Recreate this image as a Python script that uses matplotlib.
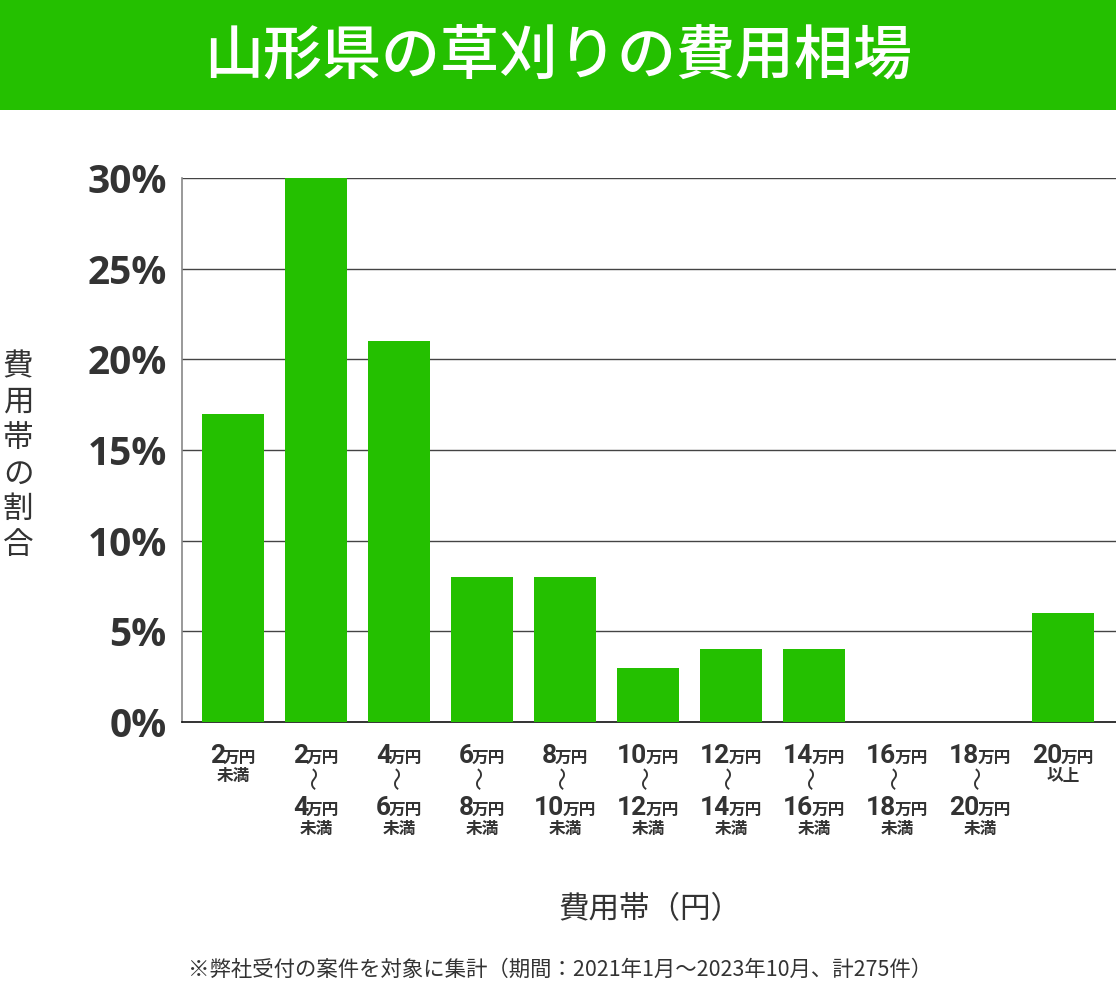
import matplotlib
matplotlib.use('Agg')
import matplotlib.pyplot as plt
import matplotlib.transforms as mtransforms
from matplotlib.patches import Rectangle

# ---- data ----
range_start = ['2', '2', '4', '6', '8', '10', '12', '14', '16', '18', '20']
range_end = ['', '4', '6', '8', '10', '12', '14', '16', '18', '20', '']
range_note = ['未満', '未満', '未満', '未満', '未満', '未満', '未満', '未満', '未満', '未満', '以上']
shares = [17, 30, 21, 8, 8, 3, 4, 4, 0, 0, 6]
y_ticks = [0, 5, 10, 15, 20, 25, 30]
y_tick_labels = ['0%', '5%', '10%', '15%', '20%', '25%', '30%']

title = '山形県の草刈りの費用相場'
y_label = '費用帯の割合'
x_label = '費用帯（円）'
footnote = '※弊社受付の案件を対象に集計（期間：2021年1月～2023年10月、計275件）'

GREEN = '#24c000'
DARK = '#333333'
CJK = ['Noto Sans CJK JP', 'DejaVu Sans']

W, H = 1116, 990
fig = plt.figure(figsize=(W / 100, H / 100), dpi=100)

# title banner
fig.patches.append(Rectangle((0, 1 - 110 / H), 1, 110 / H, transform=fig.transFigure,
                             facecolor=GREEN, edgecolor='none', zorder=0))
fig.text(558 / W, 1 - 57 / H, title, ha='center', va='center', color='white',
         fontsize=42.5, family=CJK, fontweight='medium')

ax = fig.add_axes([182 / W, 1 - 722 / H, 1 - 182 / W, (722 - 178) / H])
x = list(range(len(shares)))
ax.bar(x, shares, width=0.75, color=GREEN, zorder=3)
ax.set_xlim(-0.615, len(shares) - 1 + 0.64)
ax.set_ylim(0, 30)
ax.set_yticks(y_ticks)
ax.set_yticklabels(y_tick_labels, fontsize=28, fontweight='bold', color=DARK,
                   family=['Open Sans', 'DejaVu Sans'])
ax.tick_params(axis='y', length=0, pad=11)
ax.set_xticks([])
for yt in y_ticks[1:]:
    ax.axhline(yt, color='#444444', lw=1.0, zorder=1)
for s in ['top', 'right']:
    ax.spines[s].set_visible(False)
ax.spines['left'].set_color('#888888')
ax.spines['left'].set_linewidth(1.2)
ax.spines['bottom'].set_color('#111111')
ax.spines['bottom'].set_linewidth(1.2)

# y label stacked vertically
fig.text(18 / W, 1 - 456 / H, '\n'.join(y_label), ha='center', va='center',
         fontsize=22, color=DARK, family=CJK, linespacing=1.2)

fig.text(650 / W, 1 - 910 / H, x_label, ha='center', va='center', fontsize=22,
         color=DARK, family=CJK)
fig.text(560 / W, 1 - 970 / H, footnote, ha='center', va='center', fontsize=15.4,
         color=DARK, family=CJK)

# x tick labels (mixed sizes)
fig.canvas.draw()
renderer = fig.canvas.get_renderer()
trans = mtransforms.blended_transform_factory(ax.transData, fig.transFigure)
NUM_FS, UNIT_FS, NOTE_FS = 19, 12, 12
num_font = dict(family=['Roboto', 'DejaVu Sans'], fontweight='bold', color=DARK)
cjk_font = dict(family=CJK, fontweight='bold', color=DARK)


def amount(xc, ypix, num):
    t1 = ax.text(xc, 1 - ypix / H, num, transform=trans, ha='left', va='baseline',
                 fontsize=NUM_FS, **num_font)
    t2 = ax.text(xc, 1 - ypix / H, '万円', transform=trans, ha='left', va='baseline',
                 fontsize=UNIT_FS, **cjk_font)
    w1 = t1.get_window_extent(renderer).width - 2
    w2 = t2.get_window_extent(renderer).width
    total = w1 + w2
    t1.set_transform(mtransforms.offset_copy(trans, fig=fig, x=-total / 2, y=0, units='dots'))
    t2.set_transform(mtransforms.offset_copy(trans, fig=fig, x=-total / 2 + w1, y=0, units='dots'))


for i in x:
    if range_end[i] == '':
        amount(i, 763, range_start[i])
        ax.text(i, 1 - 776 / H, range_note[i], transform=trans, ha='center', va='center',
                fontsize=NOTE_FS, **cjk_font)
    else:
        amount(i, 763, range_start[i])
        ax.text(i, 1 - 777 / H, '～', transform=trans, ha='center', va='center',
                fontsize=17, rotation=90, color=DARK, family=CJK)
        amount(i, 815, range_end[i])
        ax.text(i, 1 - 829 / H, range_note[i], transform=trans, ha='center', va='center',
                fontsize=NOTE_FS, **cjk_font)

fig.savefig('out.png', dpi=100)
